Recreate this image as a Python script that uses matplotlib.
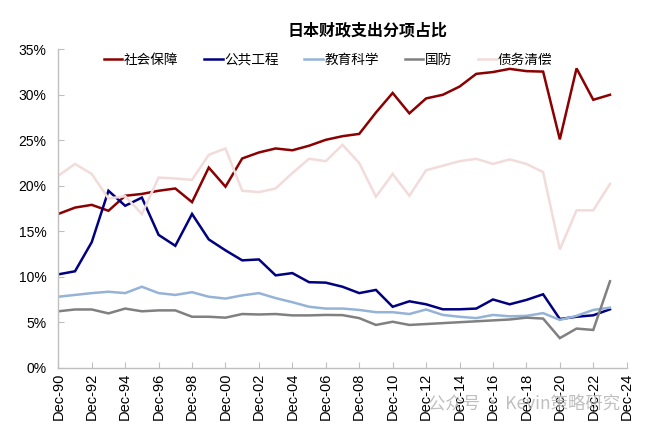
import matplotlib
matplotlib.use("Agg")
import matplotlib.pyplot as plt
from matplotlib.ticker import FuncFormatter

plt.rcParams['font.family'] = ['Liberation Sans', 'Noto Sans CJK SC', 'DejaVu Sans']

years = list(range(1990, 2024))
social_security = [16.9, 17.6, 17.9, 17.25, 18.9, 19.1, 19.45, 19.7, 18.2, 22.0,
                   19.9, 23.0, 23.66, 24.1, 23.9, 24.4, 25.05, 25.45, 25.7, 28.05,
                   30.2, 27.96, 29.6, 30.0, 30.9, 32.3, 32.5, 32.85, 32.6, 32.55,
                   25.1, 32.9, 29.45, 30.0]
public_works = [10.26, 10.6, 13.8, 19.45, 17.8, 18.7, 14.6, 13.4, 16.9, 14.1,
                12.9, 11.8, 11.9, 10.15, 10.4, 9.4, 9.35, 8.9, 8.2, 8.55,
                6.7, 7.3, 6.97, 6.42, 6.42, 6.5, 7.5, 6.97, 7.45, 8.07,
                5.35, 5.6, 5.76, 6.42]
education = [7.8, 8.0, 8.2, 8.35, 8.2, 8.9, 8.2, 8.0, 8.3, 7.8,
             7.6, 7.95, 8.2, 7.65, 7.2, 6.7, 6.5, 6.5, 6.35, 6.1,
             6.1, 5.9, 6.4, 5.8, 5.6, 5.45, 5.8, 5.65, 5.7, 6.0,
             5.25, 5.7, 6.35, 6.6]
defense = [6.2, 6.4, 6.4, 5.97, 6.5, 6.2, 6.3, 6.3, 5.6, 5.6,
           5.5, 5.9, 5.85, 5.9, 5.75, 5.75, 5.8, 5.78, 5.45, 4.7,
           5.05, 4.7, 4.8, 4.9, 5.0, 5.1, 5.2, 5.3, 5.5, 5.4,
           3.25, 4.3, 4.15, 9.5]
debt_service = [21.1, 22.4, 21.3, 18.6, 18.85, 16.9, 20.9, 20.8, 20.65, 23.4,
                24.1, 19.45, 19.3, 19.7, 21.4, 22.97, 22.7, 24.5, 22.5, 18.8,
                21.3, 18.9, 21.7, 22.2, 22.7, 22.96, 22.4, 22.9, 22.4, 21.5,
                13.0, 17.3, 17.3, 20.2]

series_names = ['社会保障', '公共工程', '教育科学', '国防', '债务清偿']
series_values = [social_security, public_works, education, defense, debt_service]
colors = ['#8B0000', '#000080', '#95B3D7', '#808080', '#F2DCDB']

tick_years = list(range(1990, 2025, 2))
tick_labels = [f"Dec-{y % 100:02d}" for y in tick_years]

fig = plt.figure(figsize=(6.52, 4.33), dpi=100)
ax = fig.add_axes([58.3 / 652, 1 - 367.7 / 433, (626.7 - 58.3) / 652, (367.7 - 49.3) / 433])

for name, vals, c in zip(series_names, series_values, colors):
    ax.plot(years, vals, color=c, lw=1.8, label=name, solid_joinstyle='miter')

ax.set_xlim(1990, 2024)
ax.set_ylim(0, 35)
ax.set_yticks(range(0, 36, 5))
ax.yaxis.set_major_formatter(FuncFormatter(lambda v, p: f"{int(v)}%"))
ax.set_xticks(tick_years)
ax.set_xticklabels(tick_labels, rotation=90)

for s in ['top', 'right']:
    ax.spines[s].set_visible(False)
for s in ['left', 'bottom']:
    ax.spines[s].set_color('#BFBFBF')
    ax.spines[s].set_linewidth(1.0)

ax.tick_params(axis='y', direction='in', length=4, color='#BFBFBF', labelsize=10, pad=8.6, labelcolor='black')
ax.tick_params(axis='x', direction='in', length=4, color='#BFBFBF', labelsize=10.5, pad=3.6, labelcolor='black')

fig.text(368 / 652, 1 - 30 / 433, '日本财政支出分项占比', ha='center', va='center',
         fontsize=11.5, fontweight='bold', family=['Noto Sans CJK SC', 'DejaVu Sans'])

leg = fig.legend(loc='center', bbox_to_anchor=(328 / 652, 1 - 60 / 433), ncol=5, frameon=False,
                 handlelength=1.37, handletextpad=0.1, columnspacing=1.9,
                 prop={'family': ['Noto Sans CJK SC', 'DejaVu Sans'], 'size': 9.8})

fig.text(428 / 652, 1 - 403 / 433, '公众号 · Kevin策略研究', ha='left', va='center',
         fontsize=12.5, color='#B0B0B0', alpha=0.8, family=['Noto Sans CJK SC', 'DejaVu Sans'])

fig.savefig('out.png', dpi=100)
